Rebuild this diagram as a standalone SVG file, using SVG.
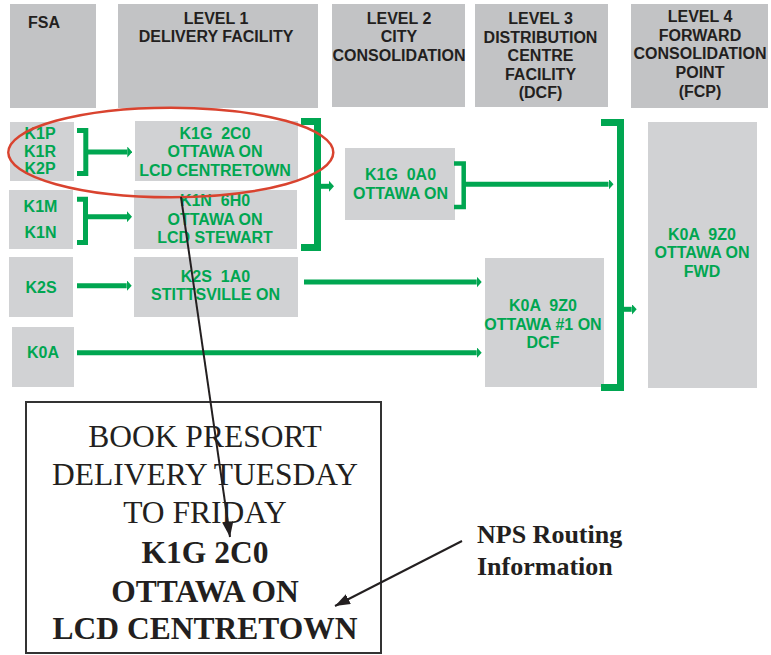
<svg xmlns="http://www.w3.org/2000/svg" width="771" height="655" viewBox="0 0 771 655">
<style>
.hdr{fill:#c2c3c5}
.nd{fill:#d1d2d4}
.ht{font-family:"Liberation Sans",Arial,sans-serif;font-weight:bold;font-size:16px;fill:#231f20;text-anchor:middle}
.gt{font-family:"Liberation Sans",Arial,sans-serif;font-weight:bold;font-size:16px;fill:#00a651;text-anchor:middle;white-space:pre}
.gl{stroke:#00a651;stroke-width:5;fill:none}
.br{stroke:#00a651;fill:none;stroke-linejoin:miter}
.bl{stroke:#231f20;stroke-width:2;fill:none}
.st{font-family:"Liberation Serif","Times New Roman",serif;font-size:31.5px;fill:#231f20;text-anchor:middle}
.sb{font-weight:bold}
.nps{font-family:"Liberation Serif","Times New Roman",serif;font-size:26px;font-weight:bold;fill:#231f20}
</style>
<defs>
<marker id="ga" viewBox="0 0 5 11" refX="0" refY="5.5" markerWidth="5" markerHeight="11" markerUnits="userSpaceOnUse" orient="auto">
<path d="M0,0 L5,5.5 L0,11 z" fill="#00a651"/>
</marker>
<marker id="ba" viewBox="0 0 15 11" refX="15" refY="5.5" markerWidth="15" markerHeight="11" markerUnits="userSpaceOnUse" orient="auto">
<path d="M0,0 L15,5.5 L0,11 z" fill="#231f20"/>
</marker>
</defs>

<g id="hdr-fsa"><rect class="hdr" x="10" y="4" width="86" height="104"/><text class="ht" x="44" y="27.5">FSA</text></g>
<g id="hdr-l1"><rect class="hdr" x="118" y="4" width="200" height="104"/><text class="ht" x="216" y="24">LEVEL 1</text><text class="ht" x="216" y="42">DELIVERY FACILITY</text></g>
<g id="hdr-l2"><rect class="hdr" x="332" y="4" width="133" height="103"/><text class="ht" x="399" y="24">LEVEL 2</text><text class="ht" x="399" y="42.3">CITY</text><text class="ht" x="399" y="61">CONSOLIDATION</text></g>
<g id="hdr-l3"><rect class="hdr" x="475" y="4" width="133" height="103"/><text class="ht" x="540.5" y="24">LEVEL 3</text><text class="ht" x="540.5" y="42.5">DISTRIBUTION</text><text class="ht" x="540.5" y="61">CENTRE</text><text class="ht" x="540.5" y="80">FACILITY</text><text class="ht" x="540.5" y="98.3">(DCF)</text></g>
<g id="hdr-l4"><rect class="hdr" x="631" y="4" width="137" height="104"/><text class="ht" x="700" y="21.7">LEVEL 4</text><text class="ht" x="700" y="40.5">FORWARD</text><text class="ht" x="700" y="59.3">CONSOLIDATION</text><text class="ht" x="700" y="77.8">POINT</text><text class="ht" x="700" y="96.7">(FCP)</text></g>

<g id="fsa-k1p"><rect class="nd" x="10" y="122" width="64" height="59"/><text class="gt" x="40" y="139.3">K1P</text><text class="gt" x="40" y="157.3">K1R</text><text class="gt" x="40" y="174.3">K2P</text></g>
<g id="fsa-k1m"><rect class="nd" x="9" y="190" width="64" height="59"/><text class="gt" x="40.5" y="212.3">K1M</text><text class="gt" x="40.5" y="237.7">K1N</text></g>
<g id="fsa-k2s"><rect class="nd" x="9" y="257" width="64" height="60"/><text class="gt" x="41" y="293.3">K2S</text></g>
<g id="fsa-k0a"><rect class="nd" x="12" y="327" width="62" height="60"/><text class="gt" x="43" y="358.3">K0A</text></g>

<g id="lcd-centretown"><rect class="nd" x="135" y="121" width="163" height="60"/><text class="gt" x="215" y="139.3">K1G  2C0</text><text class="gt" x="215" y="157.3">OTTAWA ON</text><text class="gt" x="215" y="175.7">LCD CENTRETOWN</text></g>
<g id="lcd-stewart"><rect class="nd" x="134" y="190" width="163" height="59"/><text class="gt" x="215" y="206">K1N  6H0</text><text class="gt" x="215" y="225">OTTAWA ON</text><text class="gt" x="215" y="242.7">LCD STEWART</text></g>
<g id="stittsville"><rect class="nd" x="134" y="257" width="164" height="60"/><text class="gt" x="215.5" y="281.7">K2S  1A0</text><text class="gt" x="215.5" y="300">STITTSVILLE ON</text></g>
<g id="city-consol"><rect class="nd" x="345" y="148" width="110" height="72"/><text class="gt" x="400.5" y="180">K1G  0A0</text><text class="gt" x="400.5" y="199">OTTAWA ON</text></g>
<g id="dcf"><rect class="nd" x="485" y="258" width="119" height="129"/><text class="gt" x="543" y="310.7">K0A  9Z0</text><text class="gt" x="543" y="330">OTTAWA #1 ON</text><text class="gt" x="543" y="347.7">DCF</text></g>
<g id="fcp"><rect class="nd" x="648" y="122" width="109" height="266"/><text class="gt" x="702" y="240">K0A  9Z0</text><text class="gt" x="702" y="258.3">OTTAWA ON</text><text class="gt" x="702" y="276.7">FWD</text></g>

<g id="connectors">
<polyline class="br" stroke-width="5" points="77,130.5 85.8,130.5 85.8,173.5 77,173.5"/>
<polyline class="br" stroke-width="5" points="77,199.2 85.5,199.2 85.5,242.5 77,242.5"/>
<polyline class="br" stroke-width="7" points="301,121.5 317.5,121.5 317.5,247.5 301,247.5"/>
<polyline class="br" stroke-width="4.5" points="454,163.5 463.7,163.5 463.7,207 454,207"/>
<polyline class="br" stroke-width="7" points="601,122.5 620.5,122.5 620.5,387.5 601,387.5"/>
<line class="gl" x1="88" y1="152" x2="127.3" y2="152" marker-end="url(#ga)"/>
<line class="gl" x1="88" y1="216.7" x2="127" y2="216.7" marker-end="url(#ga)"/>
<line class="gl" x1="320" y1="186.3" x2="329" y2="186.3" marker-end="url(#ga)"/>
<line class="gl" x1="465" y1="184.2" x2="608.5" y2="184.2" marker-end="url(#ga)"/>
<line class="gl" x1="623" y1="309.3" x2="631.7" y2="309.3" marker-end="url(#ga)"/>
<line class="gl" x1="77" y1="285.7" x2="126.7" y2="285.7" marker-end="url(#ga)"/>
<line class="gl" x1="304" y1="282" x2="476.7" y2="282" marker-end="url(#ga)"/>
<line class="gl" x1="77" y1="352.7" x2="476.7" y2="352.7" marker-end="url(#ga)"/>
</g>

<ellipse id="highlight" cx="170.8" cy="152.5" rx="162.5" ry="44.8" fill="none" stroke="#d9432f" stroke-width="2.5"/>

<g id="label-box">
<rect x="26" y="402" width="355" height="251" fill="none" stroke="#333" stroke-width="2"/>
<text class="st" x="205" y="447">BOOK PRESORT</text>
<text class="st" x="205" y="485">DELIVERY TUESDAY</text>
<text class="st" x="205" y="523">TO FRIDAY</text>
<text class="st sb" x="205" y="563">K1G 2C0</text>
<text class="st sb" x="205" y="602">OTTAWA ON</text>
<text class="st sb" x="205" y="638.5">LCD CENTRETOWN</text>
</g>

<g id="nps-label">
<text class="nps" x="477" y="543">NPS Routing</text>
<text class="nps" x="477" y="575">Information</text>
</g>

<g id="pointers">
<line class="bl" x1="181" y1="197" x2="230" y2="537" marker-end="url(#ba)"/>
<line class="bl" x1="462" y1="541" x2="335" y2="606" marker-end="url(#ba)"/>
</g>
</svg>
